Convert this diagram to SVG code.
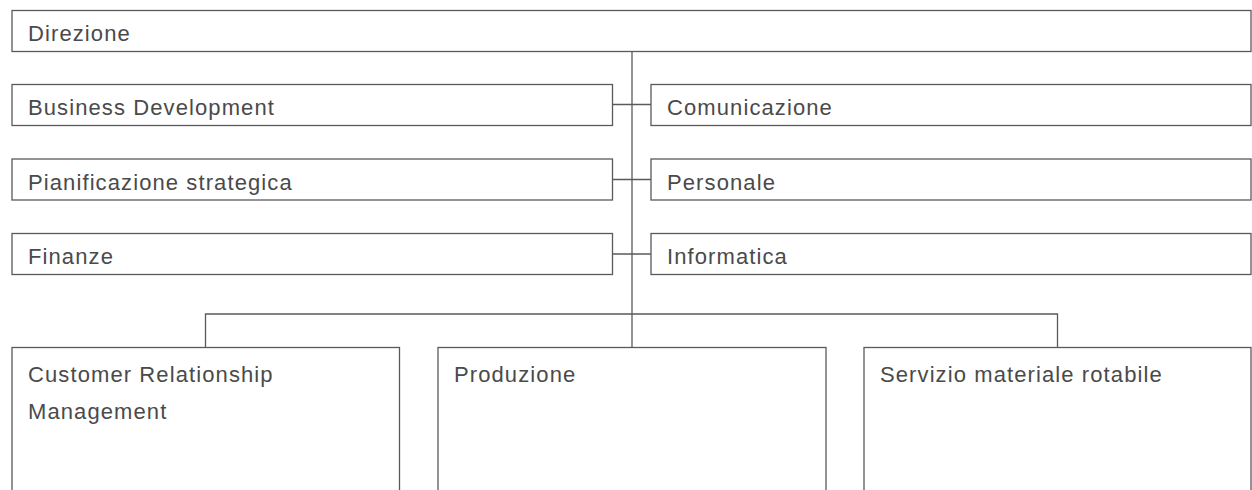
<svg xmlns="http://www.w3.org/2000/svg" width="1252" height="490" viewBox="0 0 1252 490">
  <style>
    .box { fill: #ffffff; stroke: #5a5a5a; stroke-width: 1.3; }
    .lbl { font-family: "Liberation Sans", Arial, sans-serif; font-size: 22px; fill: #4a4a4a; letter-spacing: 1.1px; }
    .conn { fill: none; stroke: #5a5a5a; stroke-width: 1.3; }
  </style>
  <rect width="1252" height="490" fill="#ffffff"/>
  <g id="connectors">
    <line class="conn" x1="632" y1="51.5" x2="632" y2="347.5"/>
    <line class="conn" x1="612.5" y1="104.5" x2="651" y2="104.5"/>
    <line class="conn" x1="612.5" y1="179.5" x2="651" y2="179.5"/>
    <line class="conn" x1="612.5" y1="254" x2="651" y2="254"/>
    <polyline class="conn" points="205.5,347.5 205.5,314 1057.5,314 1057.5,347.5"/>
  </g>
  <g id="direzione">
    <rect class="box" x="12" y="10.5" width="1239" height="41"/>
    <text class="lbl" x="28" y="41">Direzione</text>
  </g>
  <g id="business-development">
    <rect class="box" x="12" y="84.5" width="600.5" height="41"/>
    <text class="lbl" x="28" y="115">Business Development</text>
  </g>
  <g id="comunicazione">
    <rect class="box" x="651" y="84.5" width="600" height="41"/>
    <text class="lbl" x="667" y="115">Comunicazione</text>
  </g>
  <g id="pianificazione-strategica">
    <rect class="box" x="12" y="159" width="600.5" height="41"/>
    <text class="lbl" x="28" y="189.5">Pianificazione strategica</text>
  </g>
  <g id="personale">
    <rect class="box" x="651" y="159" width="600" height="41"/>
    <text class="lbl" x="667" y="189.5">Personale</text>
  </g>
  <g id="finanze">
    <rect class="box" x="12" y="233.5" width="600.5" height="41"/>
    <text class="lbl" x="28" y="264">Finanze</text>
  </g>
  <g id="informatica">
    <rect class="box" x="651" y="233.5" width="600" height="41"/>
    <text class="lbl" x="667" y="264">Informatica</text>
  </g>
  <g id="crm">
    <rect class="box" x="12" y="347.5" width="387.5" height="170"/>
    <text class="lbl" x="28" y="382">Customer Relationship</text>
    <text class="lbl" x="28" y="419">Management</text>
  </g>
  <g id="produzione">
    <rect class="box" x="438" y="347.5" width="388" height="170"/>
    <text class="lbl" x="454" y="382">Produzione</text>
  </g>
  <g id="servizio-materiale-rotabile">
    <rect class="box" x="864" y="347.5" width="387" height="170"/>
    <text class="lbl" x="880" y="382">Servizio materiale rotabile</text>
  </g>
</svg>
